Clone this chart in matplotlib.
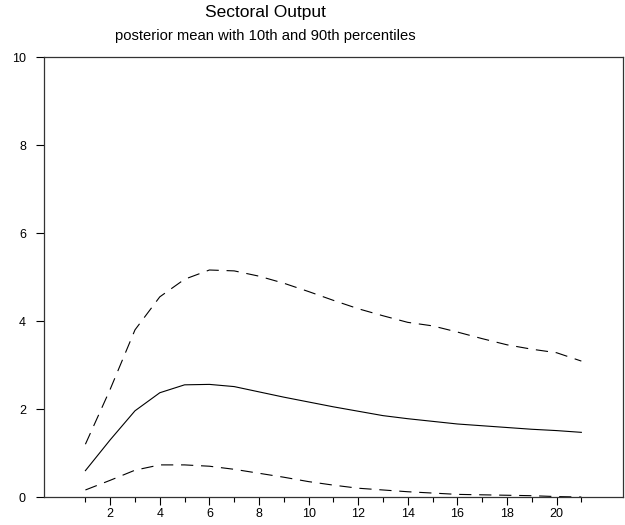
import numpy as np
import matplotlib.pyplot as plt
from matplotlib import ticker

plt.rcParams['font.family'] = ['Liberation Sans', 'DejaVu Sans']

horizon = list(range(1, 22))
mean = [0.60, 1.30, 1.96, 2.37, 2.55, 2.56, 2.51, 2.39, 2.27, 2.16, 2.05,
        1.95, 1.85, 1.78, 1.72, 1.66, 1.62, 1.58, 1.54, 1.51, 1.47]
p90 = [1.20, 2.45, 3.80, 4.55, 4.95, 5.16, 5.14, 5.02, 4.86, 4.67, 4.47,
       4.28, 4.12, 3.97, 3.89, 3.75, 3.60, 3.46, 3.36, 3.28, 3.09]
p10 = [0.16, 0.38, 0.61, 0.73, 0.73, 0.70, 0.63, 0.54, 0.45, 0.35, 0.27,
       0.20, 0.16, 0.12, 0.09, 0.06, 0.05, 0.04, 0.03, 0.01, 0.00]

fig = plt.figure(figsize=(6.25, 5.25), dpi=100)
ax = fig.add_axes([0.0704, 0.0533, 0.926, 0.838])

ax.plot(horizon, mean, color='black', lw=0.8)
ax.plot(horizon, p90, color='black', lw=0.8, linestyle=(0, (11, 7)))
ax.plot(horizon, p10, color='black', lw=0.8, linestyle=(0, (11, 7)))

ax.set_xlim(-0.67, 22.67)
ax.set_ylim(0, 10)
ax.xaxis.set_major_locator(ticker.FixedLocator(range(2, 22, 2)))
ax.xaxis.set_minor_locator(ticker.FixedLocator(range(1, 22, 2)))
ax.yaxis.set_major_locator(ticker.MultipleLocator(2))
ax.tick_params(axis='x', which='major', direction='out', length=6, width=0.8, pad=2, labelsize=9)
ax.tick_params(axis='x', which='minor', direction='out', length=3.5, width=0.8)
ax.tick_params(axis='y', direction='out', length=6, width=0.8, pad=7, labelsize=9)
for s in ax.spines.values():
    s.set_linewidth(0.9)
    s.set_color('#333333')

fig.text(265 / 625, 1 - 13 / 525, 'Sectoral Output', ha='center', va='center', fontsize=12.5)
fig.text(265 / 625, 1 - 36 / 525, 'posterior mean with 10th and 90th percentiles',
         ha='center', va='center', fontsize=10.6)

plt.savefig('out.png', dpi=100)
